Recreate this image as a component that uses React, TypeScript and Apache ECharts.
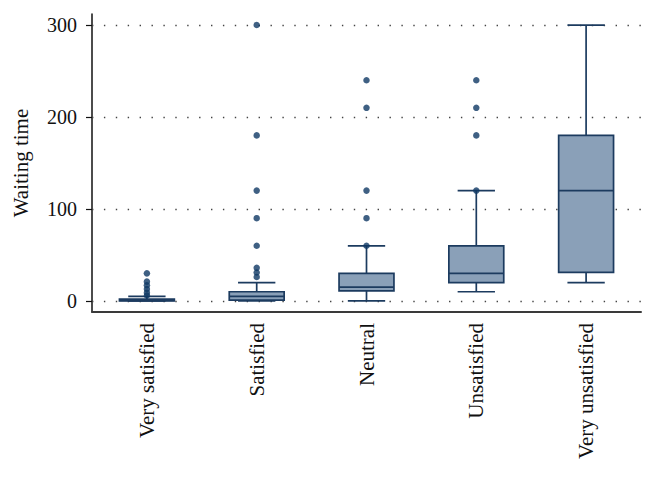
import React, { useEffect, useRef } from "react";
import * as echarts from "echarts";

const categories = ["Very satisfied", "Satisfied", "Neutral", "Unsatisfied", "Very unsatisfied"];
const lowerWhisker = [0, 0, 0, 10, 20];
const q1 = [0, 1, 11, 20, 31];
const median = [0.5, 5, 15, 30, 120];
const q3 = [2, 10, 30, 60, 180];
const upperWhisker = [5, 20, 60, 120, 300];
const outliers: number[][] = [
  [30, 21, 17, 13, 9, 6],
  [300, 180, 120, 90, 60, 36, 31, 26],
  [240, 210, 120, 90, 60],
  [240, 210, 180, 120],
  [],
];
const yTicks = [0, 100, 200, 300];

const STROKE = "#1c3b5f";
const DOT = "#0f3864";
const FILL = "#8aa0b8";
const FONT = "Liberation Serif";

export default function App() {
  const ref = useRef<HTMLDivElement>(null);
  useEffect(() => {
    if (!ref.current) return;
    const chart = echarts.init(ref.current, undefined, { renderer: "svg" });
    const boxData = categories.map((_, i) => [i, lowerWhisker[i], q1[i], median[i], q3[i], upperWhisker[i]]);
    const outlierData: any[] = [];
    outliers.forEach((arr, i) => arr.forEach((v) => outlierData.push([i, v])));

    chart.setOption({
      animation: false,
      grid: { left: 84, right: 2, top: 6, bottom: 157, containLabel: false, outerBoundsMode: "none" },
      xAxis: {
        type: "category",
        data: categories,
        boundaryGap: true,
        axisLine: { show: true, onZero: false, lineStyle: { color: "#3a3a3a", width: 2 } },
        axisTick: { show: false },
        axisLabel: {
          rotate: 90,
          margin: 11,
          fontFamily: FONT,
          fontSize: 21,
          color: "#111",
          interval: 0,
        },
        splitLine: { show: false },
      },
      yAxis: {
        type: "value",
        min: -12,
        max: 312,
        name: "Waiting time",
        nameLocation: "middle",
        nameGap: 61,
        nameRotate: 90,
        nameTextStyle: { fontFamily: FONT, fontSize: 21, color: "#111" },
        axisLine: { show: true, lineStyle: { color: "#111", width: 1.5 } },
        axisTick: { show: true, length: 6, customValues: yTicks, lineStyle: { color: "#111", width: 1.2 } },
        axisLabel: {
          customValues: yTicks,
          margin: 15,
          fontFamily: FONT,
          fontSize: 20,
          color: "#111",
        },
        splitLine: { show: false },
      },
      series: [
        {
          type: "custom",
          data: boxData,
          encode: { x: 0, y: [1, 2, 3, 4, 5] },
          z: 3,
          renderItem: (params: any, api: any) => {
            const x = api.value(0);
            const pLow = api.coord([x, api.value(1)]);
            const pQ1 = api.coord([x, api.value(2)]);
            const pMed = api.coord([x, api.value(3)]);
            const pQ3 = api.coord([x, api.value(4)]);
            const pHigh = api.coord([x, api.value(5)]);
            const band = api.size([1, 0])[0];
            const bw = band * 0.5;
            const cw = band * 0.34;
            const cx = pMed[0];
            const ls = { stroke: STROKE, lineWidth: 1.7, fill: "none" };
            return {
              type: "group",
              children: [
                { type: "line", shape: { x1: cx, y1: pLow[1], x2: cx, y2: pQ1[1] }, style: ls },
                { type: "line", shape: { x1: cx, y1: pQ3[1], x2: cx, y2: pHigh[1] }, style: ls },
                { type: "line", shape: { x1: cx - cw / 2, y1: pLow[1], x2: cx + cw / 2, y2: pLow[1] }, style: ls },
                { type: "line", shape: { x1: cx - cw / 2, y1: pHigh[1], x2: cx + cw / 2, y2: pHigh[1] }, style: ls },
                {
                  type: "rect",
                  shape: { x: cx - bw / 2, y: pQ3[1], width: bw, height: Math.max(pQ1[1] - pQ3[1], 1.5) },
                  style: { stroke: STROKE, lineWidth: 1.7, fill: FILL },
                },
                { type: "line", shape: { x1: cx - bw / 2, y1: pMed[1], x2: cx + bw / 2, y2: pMed[1] }, style: ls },
              ],
            };
          },
        },
        {
          type: "scatter",
          data: outlierData,
          symbol: "circle",
          symbolSize: 6.5,
          itemStyle: { color: DOT },
          z: 4,
          markLine: {
            silent: true,
            symbol: "none",
            label: { show: false },
            lineStyle: { color: "#444", width: 1.4, type: [1.4, 10.5] },
            data: yTicks.map((v) => ({ yAxis: v })),
            z: 1,
          },
        },
      ],
    });
    return () => chart.dispose();
  }, []);
  return <div ref={ref} style={{ width: 635, height: 461 }} />;
}
